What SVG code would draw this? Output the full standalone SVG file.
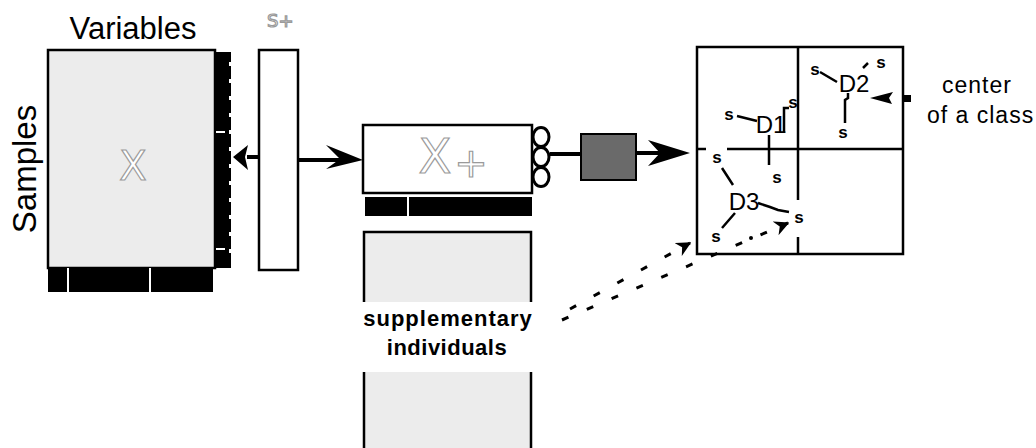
<svg xmlns="http://www.w3.org/2000/svg" width="1036" height="448" viewBox="0 0 1036 448">
<defs>
<style>
.t{font-family:"Liberation Sans",Arial,sans-serif;fill:#000}
.s{font-family:"Liberation Sans",Arial,sans-serif;font-size:17px;font-weight:bold;fill:#000;text-anchor:middle}
.d{font-family:"Liberation Sans",Arial,sans-serif;font-size:24px;fill:#000;text-anchor:middle}
.ghost{font-family:"DejaVu Sans","Liberation Sans",sans-serif;fill:#fff;stroke:#9a9a9a;stroke-width:1.2}
.box{fill:#fff;stroke:#000;stroke-width:2.5}
.tex{fill:#ececec;stroke:#000;stroke-width:2.5}
.ln{stroke:#000;stroke-width:2.5;fill:none}
.dash{stroke:#000;stroke-width:3;fill:none;stroke-dasharray:7 20}
</style>
<marker id="ah" viewBox="0 0 10 10" refX="9" refY="5" markerWidth="5" markerHeight="5" orient="auto">
<path d="M0,0 L10,5 L0,10 L3,5 Z" fill="#000"/>
</marker>
</defs>
<rect width="1036" height="448" fill="#fff"/>

<g id="labels">
<text class="t" x="133" y="39" font-size="31" text-anchor="middle">Variables</text>
<text class="t" font-size="33" text-anchor="middle" transform="translate(36,169) rotate(-90)">Samples</text>
</g>

<g id="matrix-X">
<rect class="tex" x="48" y="50" width="167" height="218"/>
<text class="ghost" x="133" y="180" font-size="40" text-anchor="middle">X</text>
<rect x="215" y="52" width="16" height="216" fill="#000"/>
<g fill="#fff">
<rect x="229" y="62" width="3" height="4"/><rect x="229" y="79" width="3" height="4"/>
<rect x="229" y="96" width="3" height="4"/><rect x="229" y="113" width="3" height="4"/>
<rect x="229" y="130" width="3" height="4"/><rect x="229" y="147" width="3" height="4"/>
<rect x="229" y="164" width="3" height="4"/><rect x="229" y="181" width="3" height="4"/>
<rect x="229" y="198" width="3" height="4"/><rect x="229" y="215" width="3" height="4"/>
<rect x="229" y="232" width="3" height="4"/><rect x="229" y="249" width="3" height="4"/>
<rect x="216" y="131" width="9" height="2"/><rect x="216" y="248" width="9" height="2"/>
</g>
<rect x="48" y="268" width="165" height="24" fill="#000"/>
<rect x="67" y="268" width="2" height="24" fill="#fff"/>
<rect x="149" y="268" width="2" height="24" fill="#fff"/>
</g>

<g id="s-plus">
<text class="ghost" x="267" y="27" font-size="18">S+</text>
<rect class="box" x="259" y="50" width="39" height="220"/>
</g>

<g id="x-plus">
<rect class="box" x="363" y="125" width="169" height="68"/>
<text class="ghost" x="435" y="173" font-size="48" text-anchor="middle">X</text>
<text class="ghost" x="471" y="177" font-size="40" text-anchor="middle">+</text>
<g fill="#fff" stroke="#000" stroke-width="3">
<ellipse cx="541" cy="137" rx="8" ry="9.5"/>
<ellipse cx="541" cy="157" rx="8" ry="9.5"/>
<ellipse cx="541" cy="177" rx="8" ry="9.5"/>
</g>
<rect x="365" y="197" width="167" height="19" fill="#000"/>
<rect x="407" y="197" width="2" height="19" fill="#fff"/>
</g>

<g id="supplementary">
<rect x="363" y="232" width="169" height="70" fill="#ececec"/>
<path class="ln" d="M364,302 V232 H531 V302" stroke-width="3"/>
<text class="t" x="448" y="326" font-size="22" font-weight="bold" letter-spacing="1" text-anchor="middle">supplementary</text>
<text class="t" x="447" y="355" font-size="22" font-weight="bold" letter-spacing="0.5" text-anchor="middle">individuals</text>
<rect x="363" y="372" width="169" height="76" fill="#ececec"/>
<path class="ln" d="M364,372 V448 M531,372 V448" stroke-width="3"/>
</g>

<g id="transform">
<rect x="581" y="134" width="55" height="46" fill="#6a6a6a" stroke="#000" stroke-width="2"/>
</g>

<g id="plot">
<rect x="697" y="47" width="206" height="207" fill="#fff" stroke="#000" stroke-width="2.5"/>
<path class="ln" d="M798,47 V200 M798,237 V254 M697,149 H706 M727,149 H903"/>
<text class="d" x="854" y="92">D2</text>
<text class="s" x="815" y="75">s</text>
<text class="s" x="881" y="68">s</text>
<text class="s" x="843" y="138">s</text>
<path class="ln" d="M820,72 L837,82 M863,68 L868,63 M848,93 V98 L845,100 V123"/>
<polygon points="870,98 893,92 889,98 892,104" fill="#000"/>
<rect x="903" y="95" width="8" height="7" fill="#000"/>
<text class="d" x="771" y="133">D1</text>
<text class="s" x="729" y="120">s</text>
<text class="s" x="793" y="108">s</text>
<text class="s" x="777" y="183">s</text>
<path class="ln" d="M737,116 L757,121 M784,133 V108 H789 M769,135 V165"/>
<text class="d" x="744" y="210">D3</text>
<text class="s" x="717" y="163">s</text>
<text class="s" x="799" y="223">s</text>
<text class="s" x="716" y="242">s</text>
<path class="ln" d="M722,168 L733,185 M758,203 L770,207 L778,210 L789,212 M735,213 L722,228"/>
<circle cx="751" cy="238" r="2" fill="#000"/>
</g>

<g id="center-label">
<text class="t" x="977" y="93" font-size="23" letter-spacing="1" text-anchor="middle">center</text>
<text class="t" x="927" y="123" font-size="23" letter-spacing="1">of a class</text>
</g>

<g id="connectors">
<path d="M247,157 H259" stroke="#000" stroke-width="4"/>
<polygon points="233,157 248,145 245,157 248,170" fill="#000"/>
<path d="M298,160 H345" stroke="#000" stroke-width="4"/>
<polygon points="363,160 326,145 340,159 326,169" fill="#000"/>
<path d="M550,154 H581" stroke="#000" stroke-width="4"/>
<path d="M636,153 H662" stroke="#000" stroke-width="4"/>
<polygon points="690,153 648,140 660,153 648,166" fill="#000"/>
<path class="dash" d="M570,309 L690,243" marker-end="url(#ah)"/>
<path class="dash" d="M562,320 L788,223" marker-end="url(#ah)"/>
</g>
</svg>
